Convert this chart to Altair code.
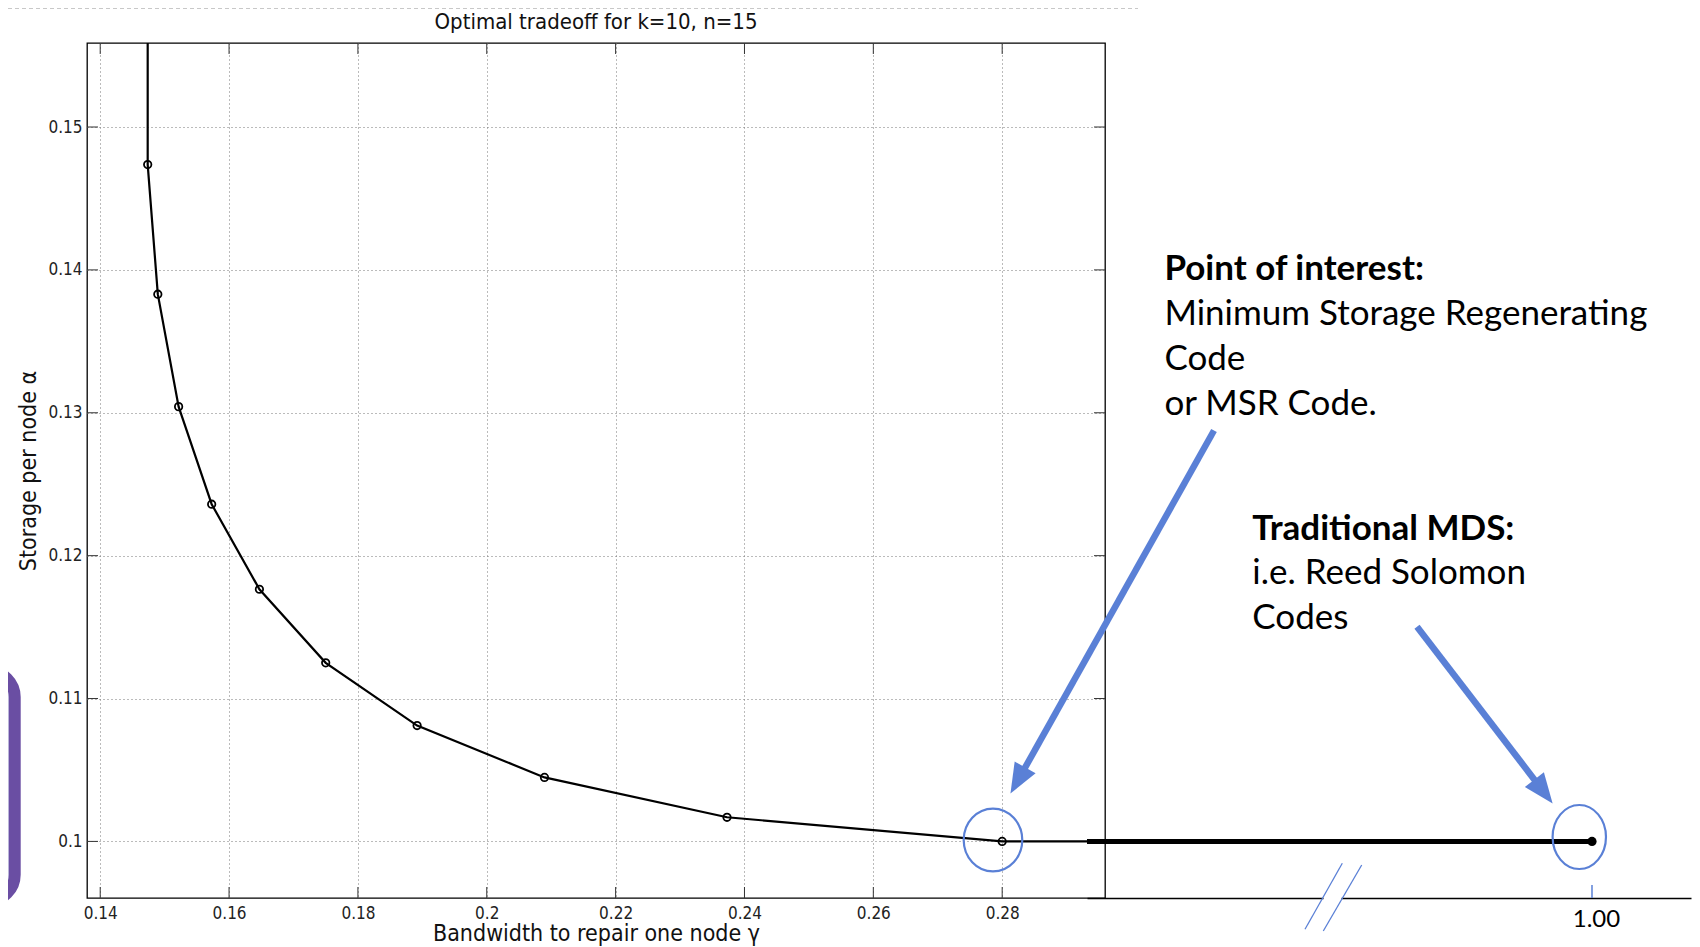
import altair as alt
import pandas as pd

# ---------------- data ----------------
title_text = "Optimal tradeoff for k=10, n=15"
x_title = "Bandwidth to repair one node \u03b3"
y_title = "Storage per node \u03b1"

x_ticks = [0.14, 0.16, 0.18, 0.20, 0.22, 0.24, 0.26, 0.28]
y_ticks = [0.10, 0.11, 0.12, 0.13, 0.14, 0.15]

# corner points of the tradeoff curve (gamma, alpha)
gamma = [0.14737, 0.14894, 0.15217, 0.15730, 0.16471, 0.17500, 0.18919, 0.20896, 0.23729, 0.28000]
alpha = [0.14737, 0.13830, 0.13043, 0.12360, 0.11765, 0.11250, 0.10811, 0.10448, 0.10169, 0.10000]
# the curve runs straight up above the first point and flat after the last one
curve_gamma = [0.14737] + gamma + [0.30]
curve_alpha = [0.17] + alpha + [0.10]

msr_gamma = [0.28]
msr_alpha = [0.10]

# broken-axis segment out to the traditional MDS point
mds_line_gamma = [0.29, 1.00]
mds_line_alpha = [0.10, 0.10]
mds_gamma = [1.00]
mds_alpha = [0.10]
mds_ticks = [1.00]

poi_head = "Point of interest:"
poi_lines = ["Minimum Storage Regenerating", "Code", "or MSR Code."]
mds_head = "Traditional MDS:"
mds_lines = ["i.e. Reed Solomon", "Codes"]

# ---------------- styling ----------------
W, H = 1018, 855
BLUE = "#5A80D6"
PLOT_FONT = "DejaVu Sans Condensed, Liberation Sans Narrow, DejaVu Sans"
SLIDE_FONT = "Lato, Open Sans, sans-serif"

XS = alt.Scale(domain=[0.13795, 0.29596], zero=False, nice=False)
YS = alt.Scale(domain=[0.09604, 0.15588], zero=False, nice=False)
XR = alt.Scale(domain=[0.29, 1.1392], range=[1000, 1604], zero=False, nice=False)


def ellipse_path(a):
    k = 0.5523
    r = lambda v: f"{v:.4f}"
    return (f"M{r(a)},0 C{r(a)},{k} {r(k*a)},1 0,1 C{r(-k*a)},1 {r(-a)},{k} {r(-a)},0 "
            f"C{r(-a)},{-k} {r(-k*a)},-1 0,-1 C{r(k*a)},-1 {r(a)},{-k} {r(a)},0 Z")


ARROW_HEAD = "M0,-1 L0.8,1 L-0.8,1 Z"

curve_df = pd.DataFrame({"g": curve_gamma, "a": curve_alpha, "i": range(len(curve_gamma))})
pts_df = pd.DataFrame({"g": gamma, "a": alpha})
msr_df = pd.DataFrame({"g": msr_gamma, "a": msr_alpha})
xt_df = pd.DataFrame({"t": x_ticks})
yt_df = pd.DataFrame({"t": y_ticks})
mdsl_df = pd.DataFrame({"g": mds_line_gamma, "a": mds_line_alpha})
mds_df = pd.DataFrame({"g": mds_gamma, "a": mds_alpha})
mdst_df = pd.DataFrame({"t": mds_ticks})
one = pd.DataFrame({"k": [0]})

x_axis = alt.Axis(
    orient="bottom", values=x_ticks, format="~g", grid=True, gridDash=[1, 3],
    gridColor="#777777", gridWidth=1, ticks=False, domain=False,
    labelFont=PLOT_FONT, labelFontSize=17, labelColor="#222",
    labelBaseline="alphabetic", labelPadding=20, labelFlush=False,
    title=x_title, titleFont=PLOT_FONT, titleFontSize=23, titleFontWeight="normal",
    titleColor="#111", titleBaseline="alphabetic", titleY=42,
)
# the same y axis object is given to every layer that uses the y scale,
# so the shared axis merges cleanly
y_axis = alt.Axis(
    orient="left", values=y_ticks, format="~g", grid=True, gridDash=[1, 3],
    gridColor="#777777", gridWidth=1, ticks=False, domain=False,
    labelFont=PLOT_FONT, labelFontSize=17, labelColor="#222",
    labelPadding=5, labelFlush=False,
    title=y_title, titleFont=PLOT_FONT, titleFontSize=23, titleFontWeight="normal",
    titleColor="#111", titleAngle=270, titleBaseline="alphabetic", titleX=-51.8,
)
r_axis = alt.Axis(
    orient="bottom", values=mds_ticks, format=".2f", ticks=False, tickSize=0, grid=False,
    domain=True, domainColor="black", domainWidth=1.5, labelFont=SLIDE_FONT,
    labelFontSize=24, labelColor="black", labelBaseline="alphabetic",
    labelPadding=28.7, labelOffset=4, labelFlush=False, title=None,
)


def Y(field):
    return alt.Y(field, scale=YS, axis=y_axis)


curve = alt.Chart(curve_df).mark_line(color="black", strokeWidth=2.2, clip=True).encode(
    x=alt.X("g:Q", scale=XS, axis=x_axis),
    y=Y("a:Q"),
    order=alt.Order("i:Q"),
)
points = alt.Chart(pts_df).mark_point(
    shape="circle", filled=False, size=55, strokeWidth=1.8, color="black", opacity=1
).encode(x=alt.X("g:Q", scale=XS, axis=None), y=Y("a:Q"))

tick_style = dict(color="#333", strokeWidth=1)
ticks_bottom = alt.Chart(xt_df).mark_rule(**tick_style).encode(
    x=alt.X("t:Q", scale=XS, axis=None), y=alt.value(H - 11), y2=alt.value(H))
ticks_top = alt.Chart(xt_df).mark_rule(**tick_style).encode(
    x=alt.X("t:Q", scale=XS, axis=None), y=alt.value(0), y2=alt.value(11))
ticks_left = alt.Chart(yt_df).mark_rule(**tick_style).encode(
    y=Y("t:Q"), x=alt.value(0), x2=alt.value(11))
ticks_right = alt.Chart(yt_df).mark_rule(**tick_style).encode(
    y=Y("t:Q"), x=alt.value(W - 11), x2=alt.value(W))

msr_ring = alt.Chart(msr_df).mark_point(
    shape=ellipse_path(0.933), size=3944, filled=False, stroke=BLUE, strokeWidth=2.2,
    opacity=1, xOffset=-9.2, yOffset=-1.4,
).encode(x=alt.X("g:Q", scale=XS, axis=None), y=Y("a:Q"))

mds_line = alt.Chart(mdsl_df).mark_line(color="black", strokeWidth=5).encode(
    x=alt.X("g:Q", scale=XR, axis=r_axis), y=Y("a:Q"))
mds_pt = alt.Chart(mds_df).mark_circle(size=85, color="black", opacity=1).encode(
    x=alt.X("g:Q", scale=XR, axis=None), y=Y("a:Q"))
mds_tick = alt.Chart(mdst_df).mark_rule(color=BLUE, strokeWidth=1.5).encode(
    x=alt.X("t:Q", scale=XR, axis=None), y=alt.value(H - 13), y2=alt.value(H))
mds_ring = alt.Chart(mds_df).mark_point(
    shape=ellipse_path(0.834), size=4096, filled=False, stroke=BLUE, strokeWidth=2.2,
    opacity=1, xOffset=-12.7, yOffset=-4.4,
).encode(x=alt.X("g:Q", scale=XR, axis=None), y=Y("a:Q"))

# decorations of the slide
title_mark = alt.Chart(one).mark_text(
    text=title_text, font=PLOT_FONT, fontSize=22, color="#111", align="center",
    baseline="alphabetic").encode(x=alt.value(W / 2), y=alt.value(-14.2))
top_dash = alt.Chart(one).mark_rule(color="#c8c8c8", strokeDash=[4, 3], strokeWidth=1).encode(
    x=alt.value(-79), x2=alt.value(1051), y=alt.value(-34.5))
purple = alt.Chart(one).mark_rect(
    fill="#DDE2F3", stroke="#6A4EA3", strokeWidth=12, cornerRadius=26
).encode(x=alt.value(-180), x2=alt.value(-72.3), y=alt.value(628), y2=alt.value(857.7))

shaft1 = alt.Chart(one).mark_rule(color=BLUE, strokeWidth=6.5).encode(
    x=alt.value(1127), y=alt.value(387.5), x2=alt.value(937.2), y2=alt.value(726.2))
head1 = alt.Chart(one).mark_point(
    shape=ARROW_HEAD, size=900, filled=True, color=BLUE, opacity=1, strokeWidth=0, angle=209.3
).encode(x=alt.value(930.8), y=alt.value(737.5))
shaft2 = alt.Chart(one).mark_rule(color=BLUE, strokeWidth=6.5).encode(
    x=alt.value(1330), y=alt.value(583.7), x2=alt.value(1448.6), y2=alt.value(738.2))
head2 = alt.Chart(one).mark_point(
    shape=ARROW_HEAD, size=900, filled=True, color=BLUE, opacity=1, strokeWidth=0, angle=142.5
).encode(x=alt.value(1456.5), y=alt.value(748.5))

text_style = dict(font=SLIDE_FONT, fontSize=35, align="left", baseline="alphabetic", color="black")
poi_h = alt.Chart(one).mark_text(text=poi_head, fontWeight="bold", **text_style).encode(
    x=alt.value(1077.4), y=alt.value(236.7))
poi_t = alt.Chart(one).mark_text(text=poi_lines, lineHeight=45, **text_style).encode(
    x=alt.value(1077.4), y=alt.value(281.7))
mds_h = alt.Chart(one).mark_text(text=mds_head, fontWeight="bold", **text_style).encode(
    x=alt.value(1165.3), y=alt.value(497))
mds_t = alt.Chart(one).mark_text(text=mds_lines, lineHeight=45, **text_style).encode(
    x=alt.value(1165.3), y=alt.value(541.4))

gap = alt.Chart(one).mark_rule(color="white", strokeWidth=4).encode(
    x=alt.value(1236.5), x2=alt.value(1254.5), y=alt.value(H))
slash1 = alt.Chart(one).mark_rule(color=BLUE, strokeWidth=1.3).encode(
    x=alt.value(1218), y=alt.value(886.3), x2=alt.value(1255.3), y2=alt.value(820.3))
slash2 = alt.Chart(one).mark_rule(color=BLUE, strokeWidth=1.3).encode(
    x=alt.value(1236.3), y=alt.value(888), x2=alt.value(1274.7), y2=alt.value(822))

chart = (
    alt.layer(
        curve, points, ticks_bottom, ticks_top, ticks_left, ticks_right, msr_ring,
        mds_line, mds_pt, mds_tick, mds_ring,
        purple, top_dash, title_mark,
        shaft1, head1, shaft2, head2, poi_h, poi_t, mds_h, mds_t,
        gap, slash1, slash2,
    )
    .resolve_scale(x="independent")
    .properties(
        width=W, height=H,
        padding={"left": 79, "top": 35, "right": 587, "bottom": 50},
        autosize=alt.AutoSizeParams(type="none"),
        background="white",
    )
    .configure_view(stroke="black", strokeWidth=1.3)
)

chart.save("out.html", embed_options={"renderer": "svg", "actions": False})
